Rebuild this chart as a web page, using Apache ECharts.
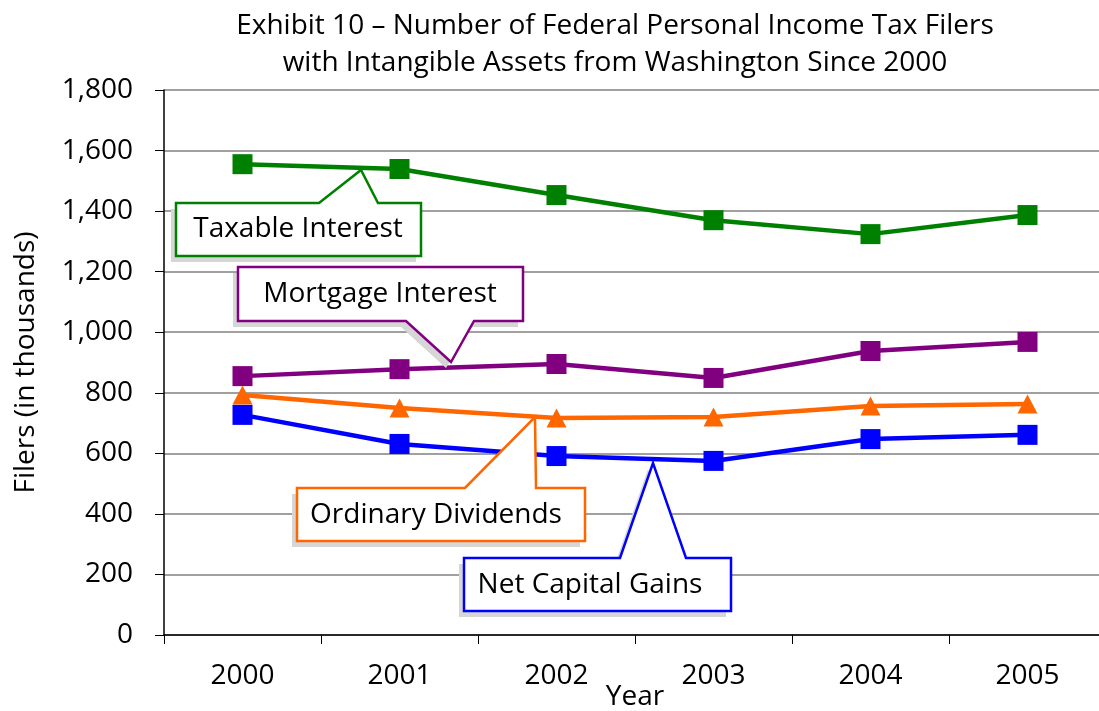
<!DOCTYPE html>
<html>
<head>
<meta charset="utf-8">
<script src="https://cdn.jsdelivr.net/npm/echarts@6/dist/echarts.min.js"></script>
<style>
  html, body { margin: 0; padding: 0; background: #fff; }
  #chart { width: 1099px; height: 711px; }
</style>
</head>
<body>
<div id="chart"></div>
<script>
const years = ['2000', '2001', '2002', '2003', '2004', '2005']
const taxableInterest = [1555, 1539, 1453, 1370, 1324, 1387]
const mortgageInterest = [855, 878, 895, 849, 938, 968]
const ordinaryDividends = [793, 750, 717, 720, 756, 763]
const netCapitalGains = [727, 631, 591, 575, 647, 661]

const FONT = '"Open Sans", "Noto Sans", sans-serif'

// callout boxes (pixel outlines incl. pointer) - annotation only
function callout(points, color, text, cx, cy) {
  const shadow = points.map(p => [p[0] - 5, p[1] + 6])
  return [
    { type: 'polygon', z: 100, shape: { points: shadow }, style: { fill: '#d6d6d6' } },
    { type: 'polygon', z: 101, shape: { points: points }, style: { fill: '#fff', stroke: color, lineWidth: 2.5 } },
    { type: 'text', z: 102, x: cx, y: cy, style: { text: text, fill: '#000', font: '28px ' + FONT, align: 'center', verticalAlign: 'middle' } }
  ]
}

const chart = echarts.init(document.getElementById('chart'))

function lineSeries(name, data, color, symbol) {
  return {
    name: name,
    type: 'line',
    data: data,
    symbol: symbol,
    symbolSize: symbol === 'triangle' ? [20, 19] : 20,
    lineStyle: { color: color, width: 4.5 },
    itemStyle: { color: color },
    animation: false
  }
}

chart.setOption({
  title: {
    text: 'Exhibit 10 – Number of Federal Personal Income Tax Filers\nwith Intangible Assets from Washington Since 2000',
    left: 610,
    textAlign: 'center',
    top: 3,
    textStyle: { fontFamily: FONT, fontSize: 28, fontWeight: 'normal', color: '#000', lineHeight: 37 }
  },
  grid: { left: 164, top: 90, width: 942, height: 545, outerBoundsMode: 'none' },
  xAxis: {
    type: 'category',
    data: years,
    boundaryGap: true,
    name: 'Year',
    nameLocation: 'middle',
    nameGap: 48,
    nameMoveOverlap: false,
    nameTextStyle: { fontFamily: FONT, fontSize: 28, color: '#000' },
    axisLine: { lineStyle: { color: '#000', width: 1.5 } },
    axisTick: { show: true, length: 9, lineStyle: { color: '#000' } },
    axisLabel: { fontFamily: FONT, fontSize: 28, color: '#000', margin: 27 },
    splitLine: { show: false }
  },
  yAxis: {
    type: 'value',
    min: 0,
    max: 1800,
    interval: 200,
    name: 'Filers (in thousands)',
    nameLocation: 'middle',
    nameGap: 124,
    nameMoveOverlap: false,
    nameTextStyle: { fontFamily: FONT, fontSize: 28, color: '#000' },
    axisLine: { show: true, lineStyle: { color: '#000', width: 1.5 } },
    axisTick: { show: true, length: 9, lineStyle: { color: '#000' } },
    axisLabel: {
      fontFamily: FONT, fontSize: 28, color: '#000', margin: 31,
      formatter: v => v.toLocaleString('en-US')
    },
    splitLine: { show: true, lineStyle: { color: '#808080', width: 1.5 } }
  },
  series: [
    lineSeries('Taxable Interest', taxableInterest, '#008000', 'rect'),
    lineSeries('Mortgage Interest', mortgageInterest, '#800080', 'rect'),
    lineSeries('Ordinary Dividends', ordinaryDividends, '#ff6600', 'triangle'),
    lineSeries('Net Capital Gains', netCapitalGains, '#0000ff', 'rect')
  ],
  graphic: [].concat(
    callout([[176, 203], [319, 203], [361, 170], [378, 203], [421, 203], [421, 256], [176, 256]], '#008000', 'Taxable Interest', 298, 229),
    callout([[238, 267], [523, 267], [523, 321], [474, 321], [451, 362], [406, 321], [238, 321]], '#800080', 'Mortgage Interest', 380, 294),
    callout([[297, 488], [465, 488], [535, 417], [536, 488], [585, 488], [585, 541], [297, 541]], '#ff6600', 'Ordinary Dividends', 436, 515),
    callout([[464, 558], [620, 558], [653, 463], [686, 558], [731, 558], [731, 611], [464, 611]], '#0000ff', 'Net Capital Gains', 590, 585)
  )
})
</script>
</body>
</html>
